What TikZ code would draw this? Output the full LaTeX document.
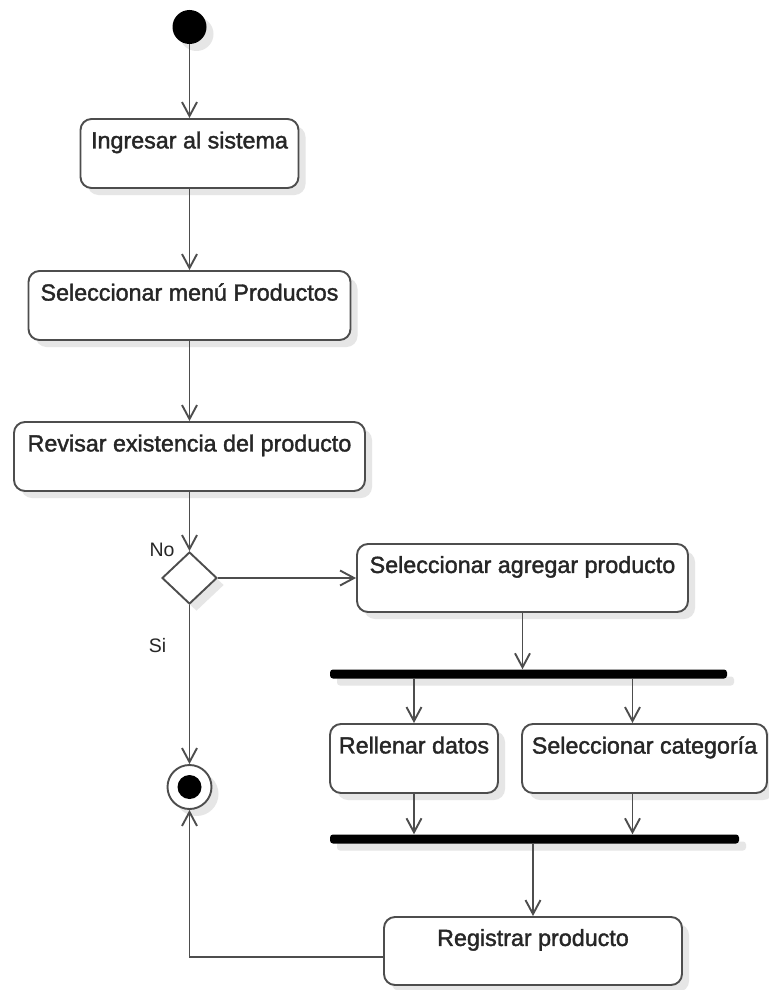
\documentclass[tikz,border=0pt]{standalone}
\usepackage{fontspec}
\setmainfont{Liberation Sans}
\newfontfamily\boxfont{Liberation Sans}[FakeBold=1.6]
\usetikzlibrary{arrows.meta,shapes.geometric,shadows}
\definecolor{edge}{HTML}{4D4D4D}
\definecolor{ink}{HTML}{262626}
\definecolor{shade}{HTML}{E6E6E6}
\tikzset{
  shad/.style={drop shadow={shadow xshift=7pt,shadow yshift=-7pt,fill=shade,opacity=1}},
  act/.style={draw=edge, line width=1.9pt, rounded corners=11pt, fill=white, shad,
    align=center, inner sep=0pt, text=ink, font=\boxfont\fontsize{23.3}{27}\selectfont,
    minimum height=69pt},
  syncbar/.style={fill=black, rounded corners=3pt, minimum height=9pt, inner sep=0pt, shad},
  startpt/.style={circle, fill=black, minimum size=34pt, inner sep=0pt, shad},
  endpt/.style={circle, draw=edge, line width=1.9pt, fill=white, minimum size=44pt, inner sep=0pt, shad,
    path picture={\fill[black] (path picture bounding box.center) circle (12pt);}},
  decis/.style={diamond, draw=edge, line width=1.9pt, fill=white, shad,
    minimum width=55pt, minimum height=52pt, inner sep=0pt},
  flow/.style={draw=edge, line width=1.9pt, -{Straight Barb[length=14pt,width=15pt]}},
  lab/.style={text=ink, font=\fontsize{19.5}{22}\selectfont},
}
\begin{document}
\begin{tikzpicture}[x=1pt,y=-1pt]
  \useasboundingbox[fill=white] (0,0) rectangle (768,990);
  \node[startpt] (start) at (189.5,27) {};
  \node[act, minimum width=218pt] (ingresar) at (189.5,153.5) {Ingresar al sistema\\\mbox{}};
  \node[act, minimum width=322pt] (menu) at (189.5,305.5) {Seleccionar menú Productos\\\mbox{}};
  \node[act, minimum width=351pt] (revisar) at (189.5,456.5) {Revisar existencia del producto\\\mbox{}};
  \node[decis] (dec) at (189.5,578) {};
  \node[lab] (no) at (162,550) {No};
  \node[lab] (si) at (157.5,646) {Si};
  \node[act, minimum width=331pt, minimum height=68pt] (agregar) at (522.5,578) {Seleccionar agregar producto\\\mbox{}};
  \node[syncbar, minimum width=397pt] (fork) at (528.5,674) {};
  \node[act, minimum width=168pt] (rellenar) at (414,758.5) {Rellenar datos\\\mbox{}};
  \node[act, minimum width=245pt] (categ) at (644.5,758.5) {Seleccionar categoría\\\mbox{}};
  \node[syncbar, minimum width=409pt] (join) at (534.5,839) {};
  \node[act, minimum width=298pt, minimum height=68pt] (registrar) at (533,951) {Registrar producto\\\mbox{}};
  \node[endpt] (fin) at (189.5,787) {};
  \coordinate (catin) at ([xshift=-12pt]categ.north);
  \coordinate (catout) at ([xshift=-12pt]categ.south);
  % flows
  \draw[flow] (start) -- (ingresar);
  \draw[flow] (ingresar) -- (menu);
  \draw[flow] (menu) -- (revisar);
  \draw[flow] (revisar) -- (dec);
  \draw[flow] (dec.east) -- (agregar.west);
  \draw[flow] (dec.south) -- (fin.north);
  \draw[flow] (agregar.south) -- (agregar.south |- fork.north);
  \draw[flow] (rellenar.north |- fork.south) -- (rellenar.north);
  \draw[flow] (catin |- fork.south) -- (catin);
  \draw[flow] (rellenar.south) -- (rellenar.south |- join.north);
  \draw[flow] (catout) -- (catout |- join.north);
  \draw[flow] (registrar.north |- join.south) -- (registrar.north);
  \draw[flow] ([yshift=-6pt]registrar.west) -| (fin.south);
\end{tikzpicture}
\end{document}
